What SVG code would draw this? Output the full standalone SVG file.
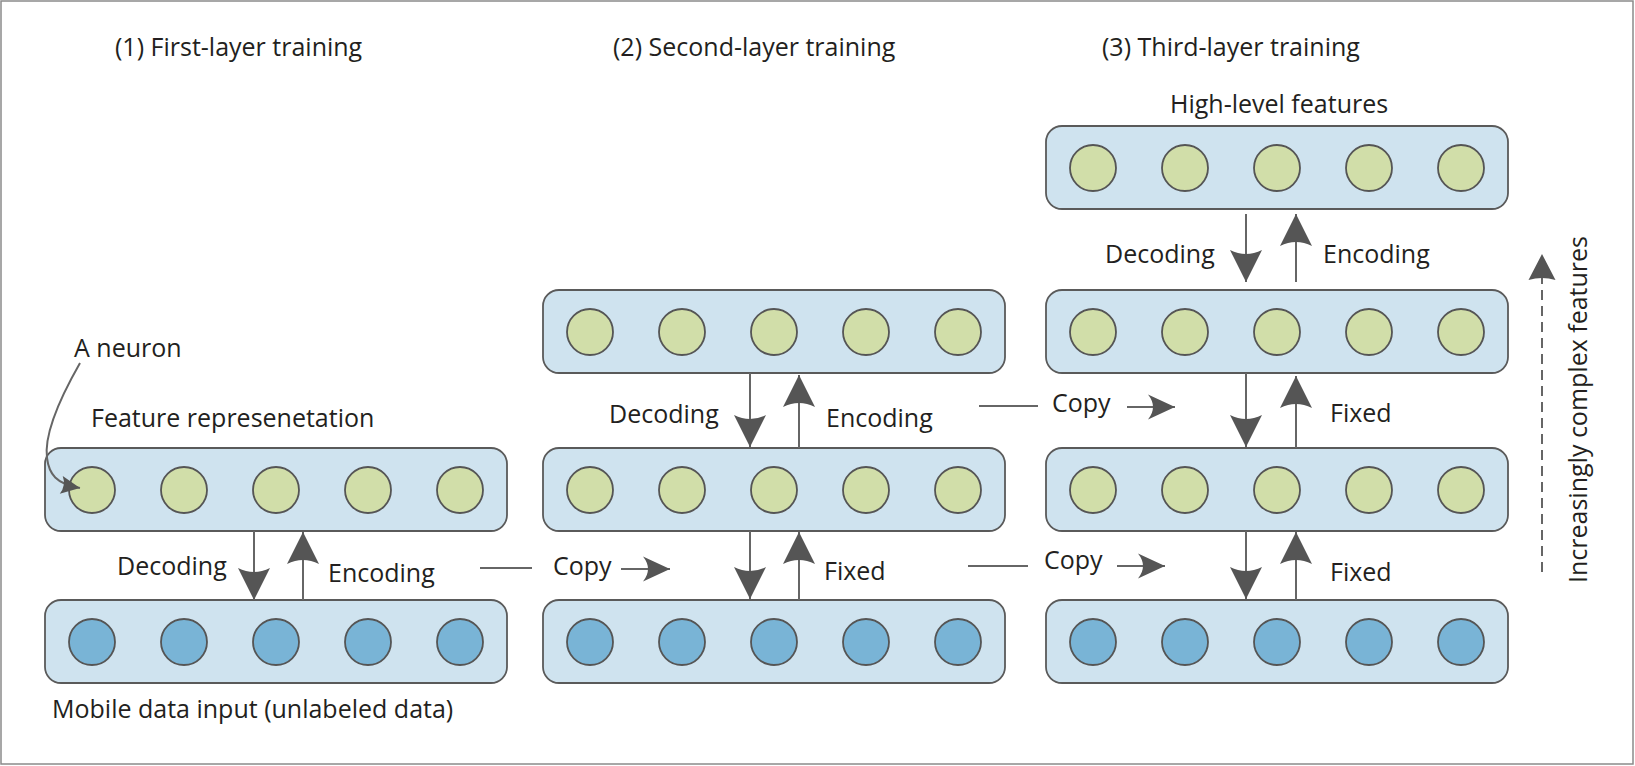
<svg xmlns="http://www.w3.org/2000/svg" width="1635" height="766" viewBox="0 0 1635 766">
<style>
  text { font-family: "Open Sans", "Liberation Sans", sans-serif; font-size: 25px; fill: #231f20; }
  .box { fill: #cfe3ef; stroke: #5a5a5a; stroke-width: 1.8; }
  .g { fill: #d1dea9; stroke: #555; stroke-width: 1.8; }
  .b { fill: #79b4d6; stroke: #555; stroke-width: 1.8; }
  .ln { stroke: #666; stroke-width: 2; fill: none; }
  .big { marker-end: url(#big); }
  .cp { marker-end: url(#cp); }
</style>
<defs>
  <marker id="big" markerUnits="userSpaceOnUse" viewBox="-34 -18 36 36" markerWidth="36" markerHeight="36" refX="0" refY="0" orient="auto">
    <path d="M0,0 L-32,-16 Q-24,0 -32,16 Z" fill="#555"/>
  </marker>
  <marker id="cp" markerUnits="userSpaceOnUse" viewBox="-30 -15 32 30" markerWidth="32" markerHeight="30" refX="0" refY="0" orient="auto">
    <path d="M0,0 L-27,-12.5 Q-17,0 -27,12.5 Z" fill="#555"/>
  </marker>
  <marker id="nr" markerUnits="userSpaceOnUse" viewBox="-22 -12 24 24" markerWidth="24" markerHeight="24" refX="0" refY="0" orient="auto">
    <path d="M0,0 L-19,-9 Q-14,0 -19,9 Z" fill="#555"/>
  </marker>
  <marker id="da" markerUnits="userSpaceOnUse" viewBox="-30 -16 32 32" markerWidth="32" markerHeight="32" refX="0" refY="0" orient="auto">
    <path d="M0,0 L-26,-13.5 Q-22,0 -26,13.5 Z" fill="#555"/>
  </marker>
</defs>

<rect x="1" y="1" width="1632" height="763" fill="#fff" stroke="#8a8a8a" stroke-width="1.5"/>

<!-- titles -->
<g id="titles">
  <text x="115" y="56">(1) First-layer training</text>
  <text x="613" y="56">(2) Second-layer training</text>
  <text x="1102" y="56">(3) Third-layer training</text>
</g>

<!-- Column 1 -->
<g id="c1-feature">
  <rect class="box" x="45" y="448" width="462" height="83" rx="16"/>
  <circle class="g" cx="92" cy="490" r="23"/>
  <circle class="g" cx="184" cy="490" r="23"/>
  <circle class="g" cx="276" cy="490" r="23"/>
  <circle class="g" cx="368" cy="490" r="23"/>
  <circle class="g" cx="460" cy="490" r="23"/>
</g>
<g id="c1-input">
  <rect class="box" x="45" y="600" width="462" height="83" rx="16"/>
  <circle class="b" cx="92" cy="642" r="23"/>
  <circle class="b" cx="184" cy="642" r="23"/>
  <circle class="b" cx="276" cy="642" r="23"/>
  <circle class="b" cx="368" cy="642" r="23"/>
  <circle class="b" cx="460" cy="642" r="23"/>
</g>

<!-- Column 2 -->
<g id="c2-top">
  <rect class="box" x="543" y="290" width="462" height="83" rx="16"/>
  <circle class="g" cx="590" cy="332" r="23"/>
  <circle class="g" cx="682" cy="332" r="23"/>
  <circle class="g" cx="774" cy="332" r="23"/>
  <circle class="g" cx="866" cy="332" r="23"/>
  <circle class="g" cx="958" cy="332" r="23"/>
</g>
<g id="c2-mid">
  <rect class="box" x="543" y="448" width="462" height="83" rx="16"/>
  <circle class="g" cx="590" cy="490" r="23"/>
  <circle class="g" cx="682" cy="490" r="23"/>
  <circle class="g" cx="774" cy="490" r="23"/>
  <circle class="g" cx="866" cy="490" r="23"/>
  <circle class="g" cx="958" cy="490" r="23"/>
</g>
<g id="c2-input">
  <rect class="box" x="543" y="600" width="462" height="83" rx="16"/>
  <circle class="b" cx="590" cy="642" r="23"/>
  <circle class="b" cx="682" cy="642" r="23"/>
  <circle class="b" cx="774" cy="642" r="23"/>
  <circle class="b" cx="866" cy="642" r="23"/>
  <circle class="b" cx="958" cy="642" r="23"/>
</g>

<!-- Column 3 -->
<g id="c3-top">
  <rect class="box" x="1046" y="126" width="462" height="83" rx="16"/>
  <circle class="g" cx="1093" cy="168" r="23"/>
  <circle class="g" cx="1185" cy="168" r="23"/>
  <circle class="g" cx="1277" cy="168" r="23"/>
  <circle class="g" cx="1369" cy="168" r="23"/>
  <circle class="g" cx="1461" cy="168" r="23"/>
</g>
<g id="c3-second">
  <rect class="box" x="1046" y="290" width="462" height="83" rx="16"/>
  <circle class="g" cx="1093" cy="332" r="23"/>
  <circle class="g" cx="1185" cy="332" r="23"/>
  <circle class="g" cx="1277" cy="332" r="23"/>
  <circle class="g" cx="1369" cy="332" r="23"/>
  <circle class="g" cx="1461" cy="332" r="23"/>
</g>
<g id="c3-third">
  <rect class="box" x="1046" y="448" width="462" height="83" rx="16"/>
  <circle class="g" cx="1093" cy="490" r="23"/>
  <circle class="g" cx="1185" cy="490" r="23"/>
  <circle class="g" cx="1277" cy="490" r="23"/>
  <circle class="g" cx="1369" cy="490" r="23"/>
  <circle class="g" cx="1461" cy="490" r="23"/>
</g>
<g id="c3-input">
  <rect class="box" x="1046" y="600" width="462" height="83" rx="16"/>
  <circle class="b" cx="1093" cy="642" r="23"/>
  <circle class="b" cx="1185" cy="642" r="23"/>
  <circle class="b" cx="1277" cy="642" r="23"/>
  <circle class="b" cx="1369" cy="642" r="23"/>
  <circle class="b" cx="1461" cy="642" r="23"/>
</g>

<!-- connectors -->
<g id="connectors">
  <!-- col 1 -->
  <line class="ln big" x1="254" y1="531" x2="254" y2="600"/>
  <line class="ln big" x1="303" y1="600" x2="303" y2="532"/>
  <!-- col 2 -->
  <line class="ln big" x1="750" y1="373" x2="750" y2="447"/>
  <line class="ln big" x1="799" y1="448" x2="799" y2="375"/>
  <line class="ln big" x1="750" y1="531" x2="750" y2="599"/>
  <line class="ln big" x1="799" y1="600" x2="799" y2="532"/>
  <!-- col 3 -->
  <line class="ln big" x1="1246" y1="214" x2="1246" y2="282"/>
  <line class="ln big" x1="1296" y1="282" x2="1296" y2="214"/>
  <line class="ln big" x1="1246" y1="373" x2="1246" y2="447"/>
  <line class="ln big" x1="1296" y1="448" x2="1296" y2="376"/>
  <line class="ln big" x1="1246" y1="531" x2="1246" y2="599"/>
  <line class="ln big" x1="1296" y1="600" x2="1296" y2="532"/>
  <!-- copy arrows -->
  <line class="ln" x1="480" y1="568" x2="532" y2="568"/>
  <line class="ln cp" x1="621" y1="569" x2="670" y2="569"/>
  <line class="ln" x1="979" y1="406" x2="1038" y2="406"/>
  <line class="ln cp" x1="1127" y1="407" x2="1175" y2="407"/>
  <line class="ln" x1="968" y1="566" x2="1028" y2="566"/>
  <line class="ln cp" x1="1117" y1="566" x2="1165" y2="566"/>
  <!-- neuron pointer -->
  <path class="ln" d="M80,363 C60,398 44,435 47,458 C49,474 56,484 80,488" marker-end="url(#nr)"/>
  <!-- increasing features -->
  <line class="ln" x1="1542" y1="572" x2="1542" y2="254" stroke-dasharray="10 6" marker-end="url(#da)"/>
</g>

<!-- labels -->
<g id="labels">
  <text x="74" y="357">A neuron</text>
  <text x="91" y="427">Feature represenetation</text>
  <text x="52" y="718">Mobile data input (unlabeled data)</text>
  <text x="117" y="575">Decoding</text>
  <text x="328" y="582">Encoding</text>
  <text x="553" y="575">Copy</text>
  <text x="609" y="423">Decoding</text>
  <text x="826" y="427">Encoding</text>
  <text x="824" y="580">Fixed</text>
  <text x="1170" y="113">High-level features</text>
  <text x="1105" y="263">Decoding</text>
  <text x="1323" y="263">Encoding</text>
  <text x="1052" y="412">Copy</text>
  <text x="1330" y="422">Fixed</text>
  <text x="1044" y="569">Copy</text>
  <text x="1330" y="581">Fixed</text>
  <text transform="translate(1587,583) rotate(-90)">Increasingly complex features</text>
</g>
</svg>
